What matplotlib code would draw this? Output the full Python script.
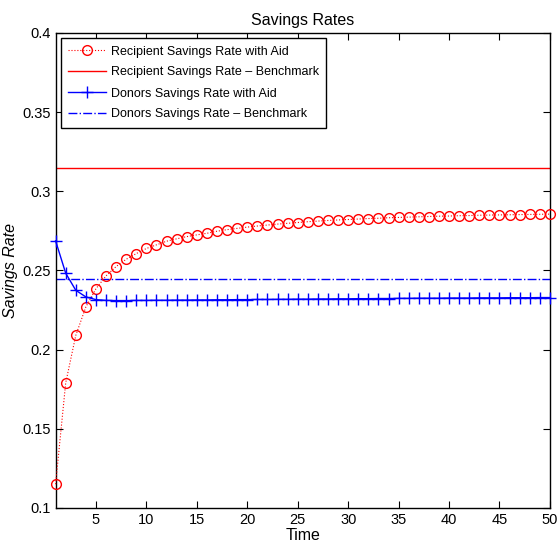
import numpy as np
import matplotlib.pyplot as plt

plt.rcParams['font.family'] = ['Liberation Sans', 'DejaVu Sans']

t = np.arange(1, 51)
recipient_aid = [0.115, 0.179, 0.209, 0.227, 0.2385, 0.2466, 0.2525, 0.2571, 0.2607, 0.2639,
                 0.2662, 0.2685, 0.2700, 0.2714, 0.2725, 0.2735, 0.2748, 0.2758, 0.2766, 0.2774,
                 0.2781, 0.2787, 0.2793, 0.2798, 0.2803, 0.2808, 0.2812, 0.2816, 0.2819, 0.2822,
                 0.2825, 0.2828, 0.2830, 0.2833, 0.2835, 0.2837, 0.2839, 0.2841, 0.2843, 0.2844,
                 0.2846, 0.2847, 0.2849, 0.2850, 0.2851, 0.2852, 0.2853, 0.2854, 0.2855, 0.2856]
donors_aid = [0.2687, 0.2483, 0.2375, 0.2333, 0.2316, 0.2311, 0.2310, 0.2310, 0.2311, 0.2311,
              0.2312, 0.2312, 0.2313, 0.2313, 0.2314, 0.2314, 0.2315, 0.2315, 0.2316, 0.2316,
              0.2317, 0.2317, 0.2318, 0.2318, 0.2319, 0.2319, 0.2320, 0.2320, 0.2321, 0.2321,
              0.2322, 0.2322, 0.2323, 0.2323, 0.2324, 0.2324, 0.2325, 0.2325, 0.2325, 0.2326,
              0.2326, 0.2326, 0.2327, 0.2327, 0.2327, 0.2328, 0.2328, 0.2328, 0.2329, 0.2329]
recipient_bench = 0.315
donors_bench = 0.2445

fig = plt.figure(figsize=(5.6, 5.5), dpi=100)
ax = fig.add_axes([0.0993, 0.0764, 0.8827, 0.8636])

ax.plot(t, recipient_aid, color='red', linestyle=':', linewidth=0.8, marker='o',
        markersize=7, markerfacecolor='none', markeredgecolor='red', markeredgewidth=1.0,
        label='Recipient Savings Rate with Aid', clip_on=False, zorder=3)
ax.plot(t, [recipient_bench] * len(t), color='red', linewidth=1.0,
        label='Recipient Savings Rate \u2013 Benchmark')
ax.plot(t, donors_aid, color='blue', linewidth=1.0, marker='+', markersize=8,
        markeredgewidth=1.0, label='Donors Savings Rate with Aid', clip_on=False, zorder=3)
ax.plot(t, [donors_bench] * len(t), color='blue', linestyle='-.', linewidth=1.0,
        label='Donors Savings Rate \u2013 Benchmark')

ax.set_xlim(1, 50)
ax.set_ylim(0.1, 0.4)
ax.set_xticks(np.arange(5, 51, 5))
ax.set_yticks([0.1, 0.15, 0.2, 0.25, 0.3, 0.35, 0.4])
ax.set_yticklabels(['0.1', '0.15', '0.2', '0.25', '0.3', '0.35', '0.4'])
ax.tick_params(direction='in', top=True, right=True, labelsize=10.5, length=5)
for s in ax.spines.values():
    s.set_linewidth(1.0)

ax.set_title('Savings Rates', fontsize=11.5, pad=6)
ax.set_xlabel('Time', fontsize=11.5, labelpad=1)
ax.set_ylabel('Savings Rate', fontsize=11.5, style='italic', labelpad=3)

leg = ax.legend(loc='upper left', fontsize=9, fancybox=False, framealpha=1,
                edgecolor='black', borderpad=0.6, labelspacing=0.72, handlelength=3.0,
                handletextpad=0.4, borderaxespad=0.4)
leg.get_frame().set_linewidth(1.0)

fig.savefig('out.png', dpi=100)
